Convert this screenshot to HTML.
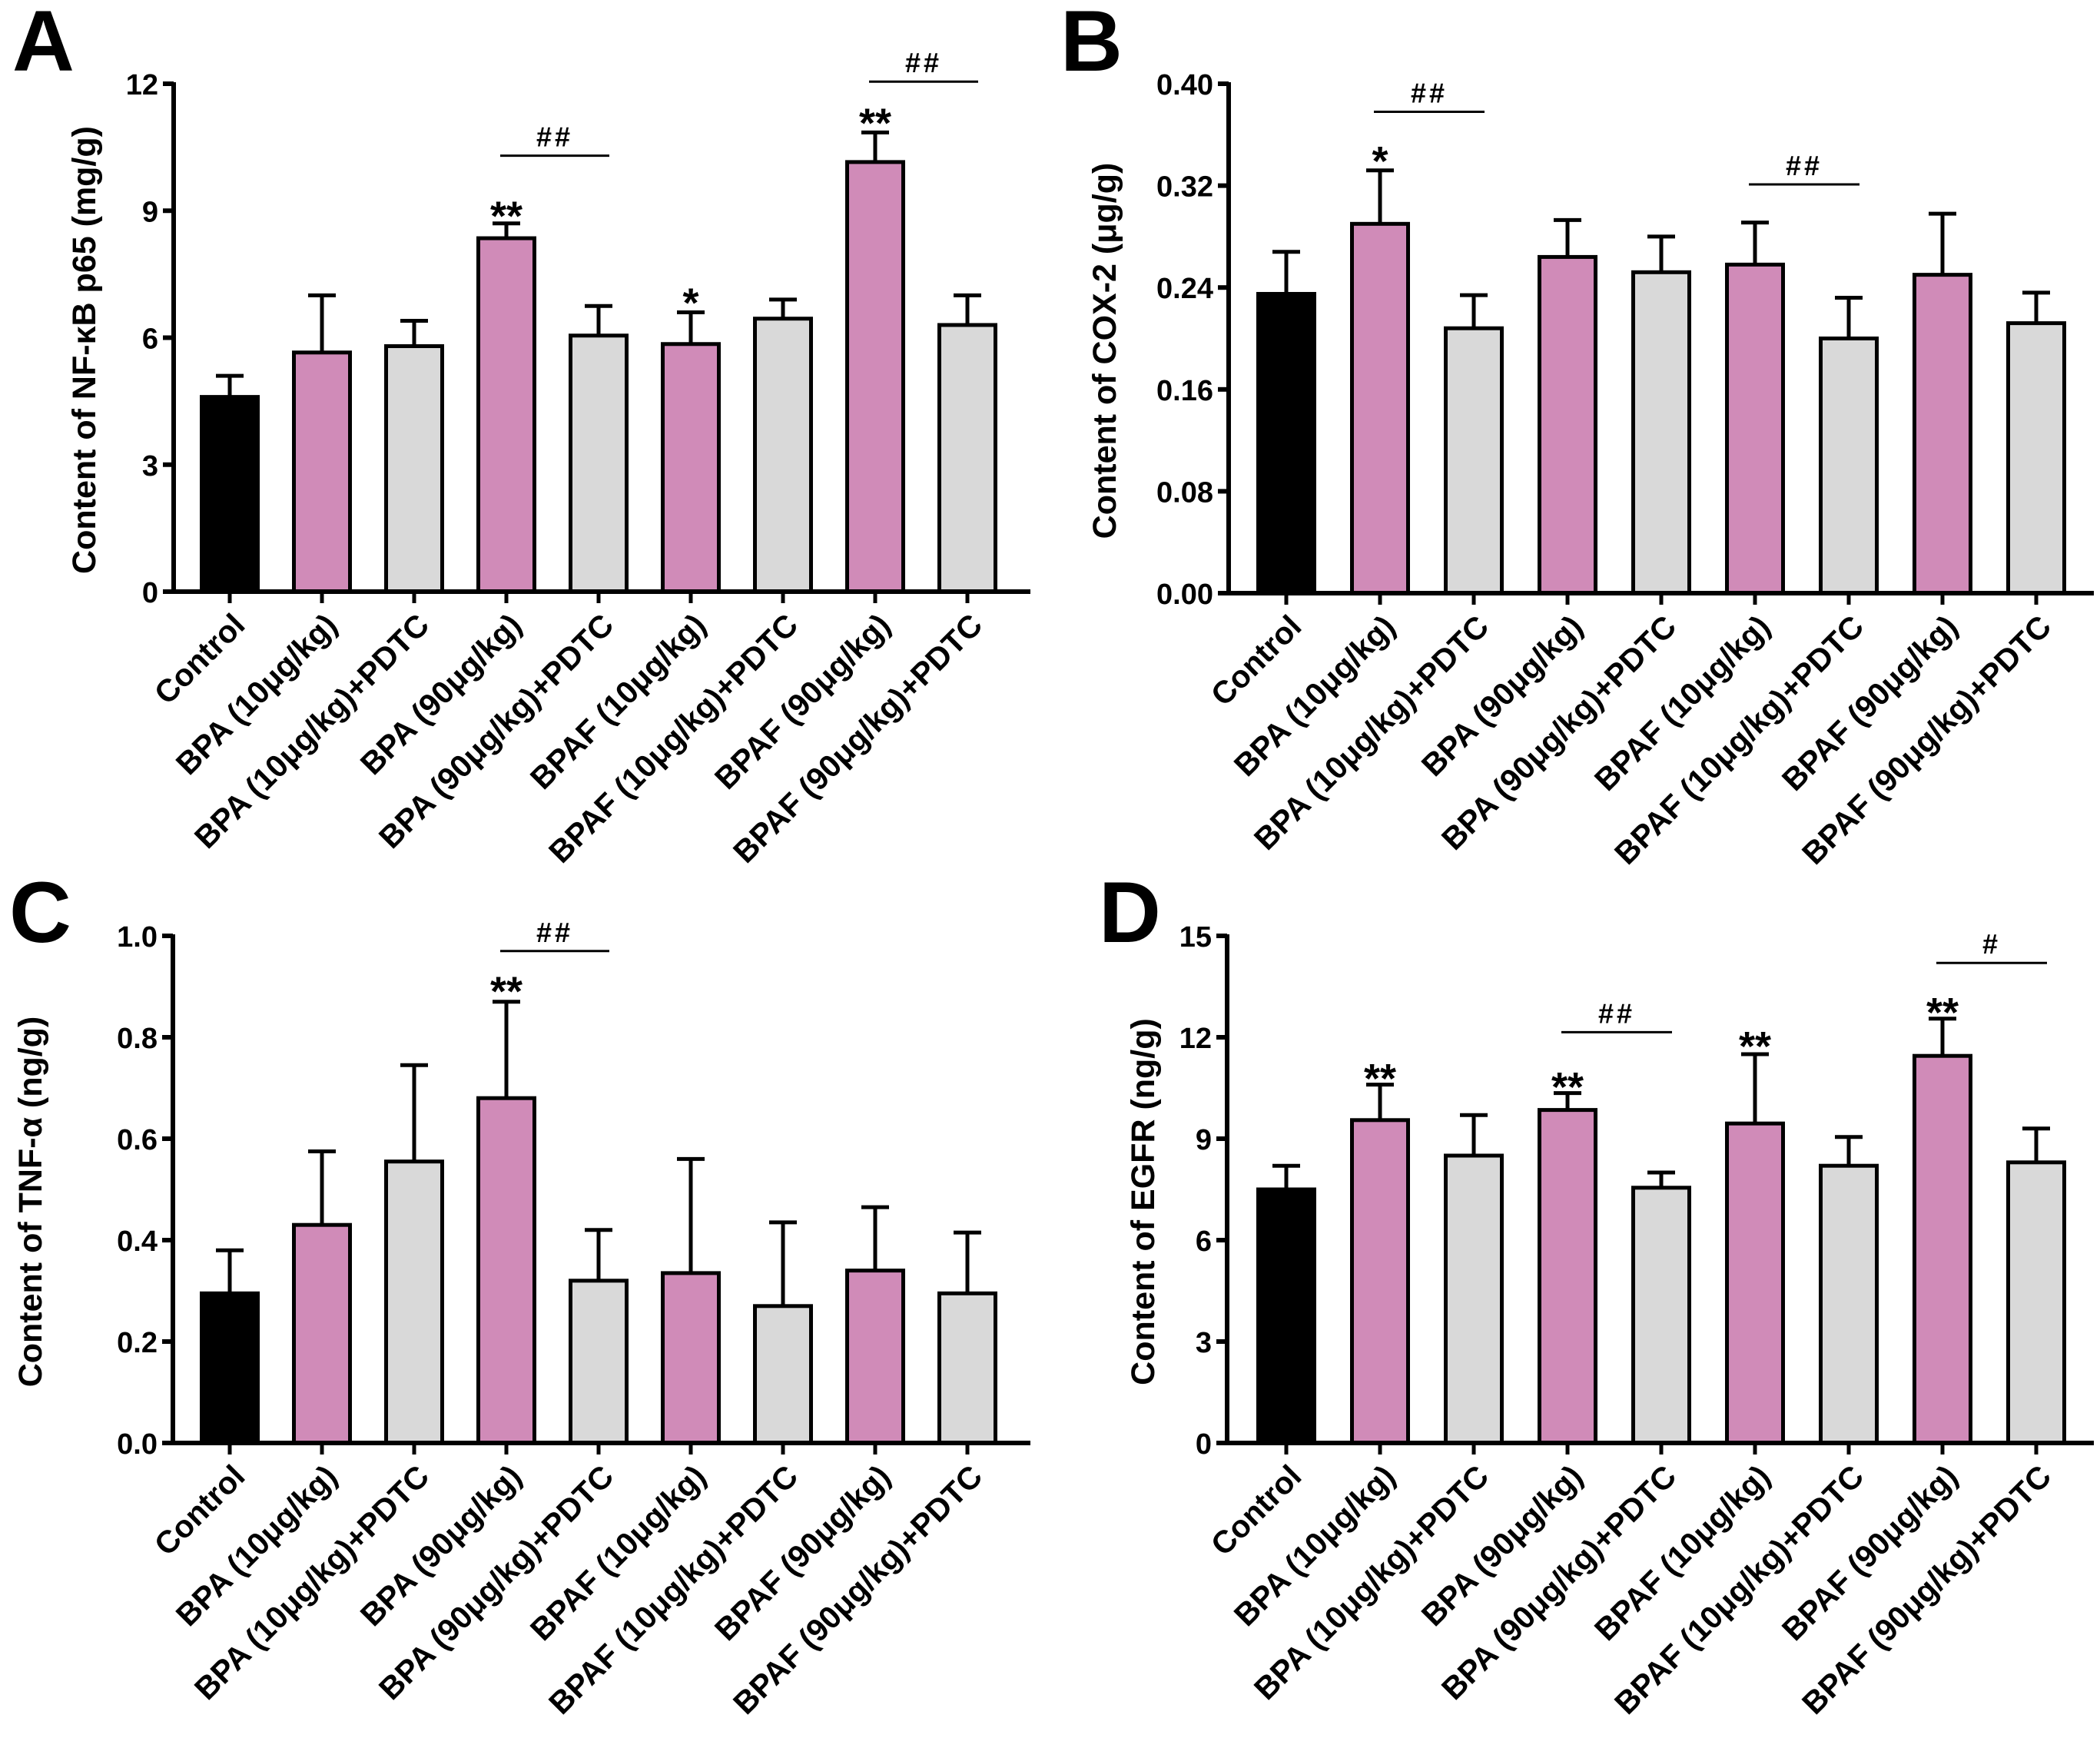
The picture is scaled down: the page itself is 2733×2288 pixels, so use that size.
<!DOCTYPE html>
<html><head><meta charset="utf-8"><style>
html,body{margin:0;padding:0;background:#fff}
svg{display:block}
text{font-family:"Liberation Sans",Arial,sans-serif;font-weight:bold;fill:#000}
</style></head><body>
<svg id="fig" width="2733" height="2288" viewBox="0 0 2733 2288" xmlns="http://www.w3.org/2000/svg"></svg>
<script>
const categories = ["Control","BPA (10μg/kg)","BPA (10μg/kg)+PDTC","BPA (90μg/kg)","BPA (90μg/kg)+PDTC","BPAF (10μg/kg)","BPAF (10μg/kg)+PDTC","BPAF (90μg/kg)","BPAF (90μg/kg)+PDTC"];
const barColors = ["#000000","#d08bb8","#d9d9d9","#d08bb8","#d9d9d9","#d08bb8","#d9d9d9","#d08bb8","#d9d9d9"];

const valuesA = [4.6,5.65,5.8,8.35,6.05,5.85,6.45,10.15,6.3];
const errTopA = [5.1,7.0,6.4,8.7,6.75,6.6,6.9,10.85,7.0];
const ticksA = ["0","3","6","9","12"];
const tickValsA = [0,3,6,9,12];

const valuesB = [0.235,0.29,0.208,0.264,0.252,0.258,0.2,0.25,0.212];
const errTopB = [0.268,0.332,0.234,0.293,0.28,0.291,0.232,0.298,0.236];
const ticksB = ["0.00","0.08","0.16","0.24","0.32","0.40"];
const tickValsB = [0,0.08,0.16,0.24,0.32,0.40];

const valuesC = [0.295,0.43,0.555,0.68,0.32,0.335,0.27,0.34,0.295];
const errTopC = [0.38,0.575,0.745,0.87,0.42,0.56,0.435,0.465,0.415];
const ticksC = ["0.0","0.2","0.4","0.6","0.8","1.0"];
const tickValsC = [0,0.2,0.4,0.6,0.8,1.0];

const valuesD = [7.5,9.55,8.5,9.85,7.55,9.45,8.2,11.45,8.3];
const errTopD = [8.2,10.6,9.7,10.35,8.0,11.5,9.05,12.55,9.3];
const ticksD = ["0","3","6","9","12","15"];
const tickValsD = [0,3,6,9,12,15];

const starsA = [[3,"**",9.05],[5,"*",7.0],[7,"**",11.25]];
const linesA = [[3,4,"##",10.3],[7,8,"##",12.05]];
const starsB = [[1,"*",0.345]];
const linesB = [[1,2,"##",0.378],[5,6,"##",0.321]];
const starsC = [[3,"**",0.905]];
const linesC = [[3,4,"##",0.97]];
const starsD = [[1,"**",11.0],[3,"**",10.75],[5,"**",11.95],[7,"**",12.95]];
const linesD = [[3,4,"##",12.15],[7,8,"#",14.2]];

const NS="http://www.w3.org/2000/svg";
const svg=document.getElementById('fig');
function el(tag,attrs,parent){const e=document.createElementNS(NS,tag);for(const k in attrs)e.setAttribute(k,attrs[k]);(parent||svg).appendChild(e);return e;}

function panel(cfg){
  const g=el('g',{});
  
  
  const ymax=cfg.tickVals[cfg.tickVals.length-1];
  const yS=v=>cfg.y0-(v/ymax)*(cfg.y0-cfg.yTop);
  const xS=i=>cfg.x0+i*cfg.step;
  const bw=73;
  const L=el('text',{x:cfg.lx,y:cfg.ly,'font-size':112},g);L.textContent=cfg.id;
  
  
  cfg.values.forEach((v,i)=>{
    const cx=xS(i);
    const e=el('line',{x1:cx,x2:cx,y1:yS(v),y2:yS(cfg.err[i]),stroke:'#000','stroke-width':5},g);
    
    
    const c=el('line',{x1:cx-18,x2:cx+18,y1:yS(cfg.err[i]),y2:yS(cfg.err[i]),stroke:'#000','stroke-width':5},g);
    
    
    const r=el('rect',{x:cx-bw/2,y:yS(v),width:bw,height:yS(0)-yS(v),fill:barColors[i],stroke:'#000','stroke-width':5},g);
    
    
    const t=el('line',{x1:cx,x2:cx,y1:cfg.y0,y2:cfg.y0+15,stroke:'#000','stroke-width':5},g);
    
    
    const lb=el('text',{x:0,y:0,'font-size':41,'text-anchor':'end',transform:`translate(${cx+22},${cfg.y0+46}) rotate(-45)`},g);
    lb.textContent=categories[i];
    
    
  });
  const ya=el('line',{x1:cfg.ax,x2:cfg.ax,y1:cfg.yTop-2,y2:cfg.y0+3,stroke:'#000','stroke-width':6},g);
  
  
  const xa=el('line',{x1:cfg.ax-13,x2:cfg.xEnd,y1:cfg.y0,y2:cfg.y0,stroke:'#000','stroke-width':6},g);
  
  
  cfg.tickVals.forEach((tv,k)=>{
    const y=yS(tv);
    const t=el('line',{x1:cfg.ax-14,x2:cfg.ax,y1:y,y2:y,stroke:'#000','stroke-width':6},g);
    
    
    const tl=el('text',{x:cfg.ax-20,y:y+14,'font-size':38,'text-anchor':'end'},g);
    tl.textContent=cfg.ticks[k];
    
    
  });
  const yt=el('text',{x:0,y:0,'font-size':43,'text-anchor':'middle',transform:`translate(${cfg.tx},${(cfg.y0+cfg.yTop)/2+16}) rotate(-90)`},g);
  yt.textContent=cfg.title;
  
  
  cfg.stars.forEach(s=>{
    const st=el('text',{x:xS(s[0]),y:yS(s[2])+28,'font-size':54,'text-anchor':'middle'},g);
    st.textContent=s[1];
    
    
  });
  cfg.lines.forEach(s=>{
    const y=yS(s[3]);
    const ln=el('line',{x1:xS(s[0])-8,x2:xS(s[1])+14,y1:y,y2:y,stroke:'#000','stroke-width':3},g);
    
    
    const ht=el('text',{x:(xS(s[0])+xS(s[1]))/2+3,y:y-12,'font-size':36,'text-anchor':'middle','letter-spacing':'4'},g);
    ht.textContent=s[2];
    
    
  });
}

panel({id:'A',values:valuesA,err:errTopA,ticks:ticksA,tickVals:tickValsA,stars:starsA,lines:linesA,
  ax:226,x0:299,step:120,xEnd:1341,yTop:109,y0:770,tx:124,lx:16,ly:92,title:'Content of NF-κB p65 (mg/g)'});
panel({id:'B',values:valuesB,err:errTopB,ticks:ticksB,tickVals:tickValsB,stars:starsB,lines:linesB,
  ax:1599,x0:1674,step:122,xEnd:2725,yTop:109,y0:772,tx:1452,lx:1380,ly:92,title:'Content of COX-2 (μg/g)'});
panel({id:'C',values:valuesC,err:errTopC,ticks:ticksC,tickVals:tickValsC,stars:starsC,lines:linesC,
  ax:225,x0:299,step:120,xEnd:1341,yTop:1218,y0:1878,tx:54,lx:12,ly:1226,title:'Content of TNF-α (ng/g)'});
panel({id:'D',values:valuesD,err:errTopD,ticks:ticksD,tickVals:tickValsD,stars:starsD,lines:linesD,
  ax:1597,x0:1674,step:122,xEnd:2725,yTop:1218,y0:1878,tx:1502,lx:1430,ly:1226,title:'Content of EGFR (ng/g)'});
</script>
</body></html>
